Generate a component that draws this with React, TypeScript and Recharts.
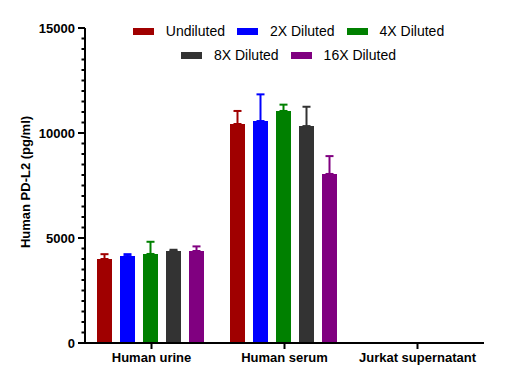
import React from "react";
import {
  BarChart,
  Bar,
  XAxis,
  YAxis,
  ErrorBar,
  Legend,
} from "recharts";

const categories = ["Human urine", "Human serum", "Jurkat supernatant"];

const undiluted = [4000, 10430, null];
const undilutedErr = [230, 620, null];
const diluted2x = [4140, 10570, null];
const diluted2xErr = [90, 1270, null];
const diluted4x = [4240, 11050, null];
const diluted4xErr = [580, 300, null];
const diluted8x = [4380, 10330, null];
const diluted8xErr = [60, 920, null];
const diluted16x = [4380, 8050, null];
const diluted16xErr = [220, 850, null];

const yTicks = Array.from({ length: 31 }, (_, i) => i * 500);
const majorTicks = [0, 5000, 10000, 15000];

const series = [
  { key: "u", name: "Undiluted", color: "#A00000", values: undiluted, errs: undilutedErr },
  { key: "d2", name: "2X Diluted", color: "#0000FF", values: diluted2x, errs: diluted2xErr },
  { key: "d4", name: "4X Diluted", color: "#008000", values: diluted4x, errs: diluted4xErr },
  { key: "d8", name: "8X Diluted", color: "#333333", values: diluted8x, errs: diluted8xErr },
  { key: "d16", name: "16X Diluted", color: "#800080", values: diluted16x, errs: diluted16xErr },
];

const legendRows = [series.slice(0, 3), series.slice(3)];

const rows = categories.map((c, i) => {
  const r: Record<string, unknown> = { name: c };
  series.forEach((s) => {
    r[s.key] = s.values[i];
    r[s.key + "Err"] = s.errs[i] == null ? null : [0, s.errs[i]];
  });
  return r;
});

const font = "'Liberation Sans', Arial, sans-serif";

function YTick(props: any) {
  const { x, y, payload } = props;
  const major = majorTicks.includes(payload.value);
  return (
    <g>
      <line x1={x} x2={x - (major ? 7 : 3.5)} y1={y} y2={y} stroke="#000" strokeWidth={2} />
      {major && (
        <text
          x={x - 10}
          y={y}
          dy={4.6}
          textAnchor="end"
          fontFamily={font}
          fontWeight="bold"
          fontSize={13}
          fill="#000"
        >
          {payload.value}
        </text>
      )}
    </g>
  );
}

function LegendBox() {
  return (
    <div style={{ width: 399, fontFamily: font, fontSize: 14, color: "#000" }}>
      {legendRows.map((row, ri) => (
        <div
          key={ri}
          style={{ display: "flex", justifyContent: "center", height: 24, alignItems: "center" }}
        >
          {row.map((s) => (
            <div key={s.key} style={{ display: "flex", alignItems: "center", margin: "0 6px" }}>
              <span
                style={{ display: "inline-block", width: 21, height: 7, background: s.color, marginRight: 12 }}
              />
              <span>{s.name}</span>
            </div>
          ))}
        </div>
      ))}
    </div>
  );
}

export default function App() {
  return (
    <div style={{ position: "absolute", left: 0, top: 0, width: 527, height: 389, background: "#fff" }}>
      <BarChart
        width={527}
        height={389}
        data={rows}
        margin={{ top: 28, right: 43, bottom: 16, left: 0 }}
        barCategoryGap={12}
        barGap={8}
      >
        <XAxis
          dataKey="name"
          axisLine={{ stroke: "#000", strokeWidth: 2 }}
          tickLine={{ stroke: "#000", strokeWidth: 2 }}
          tickSize={6}
          tickMargin={4}
          height={30}
          tick={{ fill: "#000", fontSize: 13, fontWeight: "bold", fontFamily: font }}
        />
        <YAxis
          width={85}
          domain={[0, 15000]}
          ticks={yTicks}
          interval={0}
          tickSize={0}
          tickMargin={0}
          tickLine={false}
          axisLine={{ stroke: "#000", strokeWidth: 2 }}
          tick={<YTick />}
          label={{
            content: () => (
              <text
                transform="translate(30,182) rotate(-90)"
                textAnchor="middle"
                fontFamily={font}
                fontWeight="bold"
                fontSize={13}
                fill="#000"
              >
                Human PD-L2 (pg/ml)
              </text>
            ),
          }}
        />
        <Legend
          verticalAlign="middle"
          align="center"
          layout="horizontal"
          wrapperStyle={{ top: 19, left: 89, width: 399 }}
          content={() => <LegendBox />}
        />
        {series.map((s) => (
          <Bar key={s.key} dataKey={s.key} name={s.name} fill={s.color} isAnimationActive={false}>
            <ErrorBar
              dataKey={s.key + "Err"}
              direction="y"
              width={4}
              stroke={s.color}
              strokeWidth={2}
              isAnimationActive={false}
            />
          </Bar>
        ))}
      </BarChart>
    </div>
  );
}
